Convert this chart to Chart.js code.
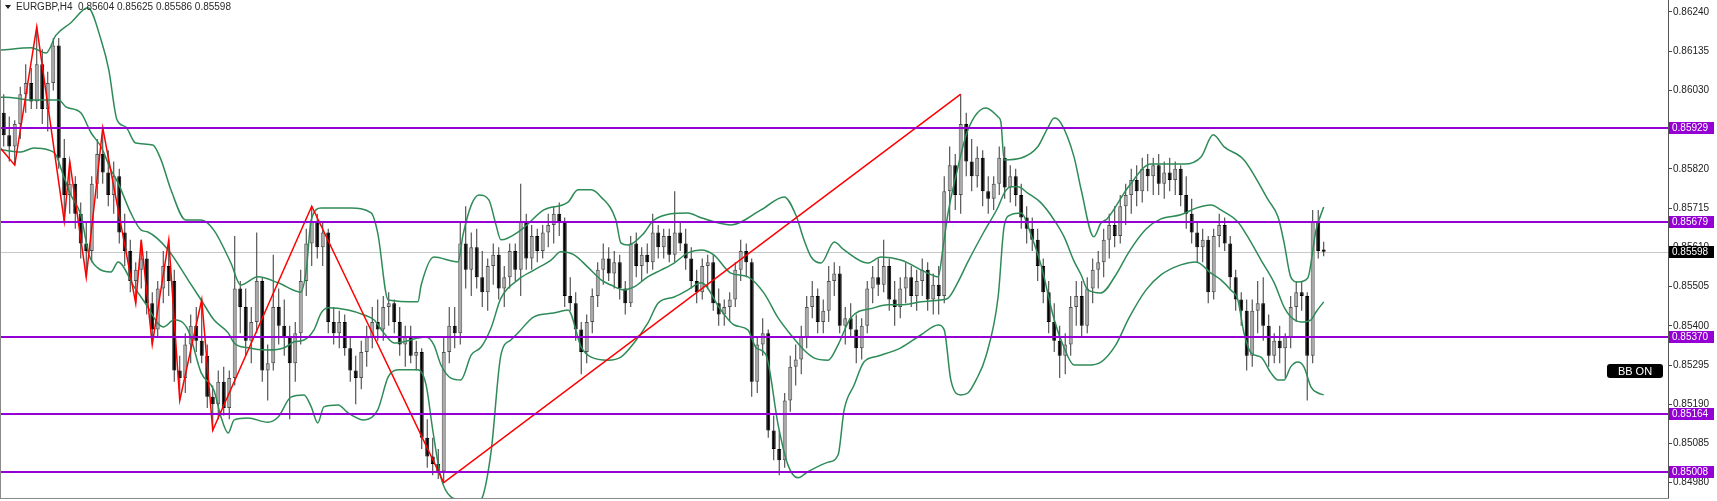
<!DOCTYPE html>
<html>
<head>
<meta charset="utf-8">
<script src="https://cdn.jsdelivr.net/npm/chart.js@4/dist/chart.umd.min.js"></script>
<style>
  html, body { margin: 0; padding: 0; background: #fff; }
  #wrap { width: 1717px; height: 501px; }
</style>
</head>
<body>
<div id="wrap"><canvas id="chart" width="1717" height="501"></canvas></div>
<script>
// EURGBP H4 candles (oldest first)
const symbol = 'EURGBP,H4';

const opens = [
  .8597,.8591,.8588,.8594,.8602,.8605,.8600,.8610,.8598,.8605,
  .8615,.8585,.8575,.8578,.8570,.8562,.8560,.8578,.8586,.8581,
  .8575,.8580,.8565,.8560,.8552,.8555,.8558,.8546,.8539,.8550,
  .8556,.8552,.8528,.8526,.8535,.8540,.8536,.8532,.8521,.8519,
  .8525,.8518,.8526,.8550,.8545,.8536,.8541,.8552,.8528,.8530,
  .8545,.8540,.8537,.8530,.8538,.8552,.8562,.8568,.8561,.8565,
  .8541,.8538,.8541,.8534,.8528,.8526,.8533,.8537,.8541,.8539,
  .8545,.8546,.8541,.8535,.8537,.8532,.8533,.8510,.8505,.8503,
  .8501,.8533,.8540,.8538,.8562,.8555,.8561,.8553,.8549,.8556,
  .8559,.8550,.8553,.8560,.8555,.8568,.8558,.8564,.8560,.8565,
  .8567,.8570,.8568,.8548,.8546,.8539,.8533,.8541,.8548,.8555,
  .8558,.8554,.8557,.8550,.8546,.8562,.8556,.8559,.8557,.8565,
  .8561,.8564,.8559,.8565,.8562,.8558,.8552,.8549,.8556,.8557,
  .8546,.8543,.8545,.8547,.8555,.8560,.8557,.8525,.8535,.8538,
  .8512,.8507,.8504,.8520,.8529,.8531,.8537,.8545,.8548,.8541,
  .8544,.8552,.8554,.8540,.8542,.8539,.8534,.8540,.8550,.8553,
  .8551,.8556,.8547,.8545,.8550,.8553,.8548,.8552,.8555,.8547,
  .8551,.8548,.8576,.8583,.8575,.8594,.8584,.8580,.8585,.8576,
  .8574,.8578,.8585,.8577,.8580,.8575,.8569,.8566,.8563,.8556,
  .8549,.8541,.8536,.8532,.8535,.8545,.8548,.8540,.8550,.8555,
  .8557,.8563,.8567,.8564,.8572,.8575,.8579,.8576,.8582,.8580,
  .8583,.8578,.8581,.8579,.8582,.8575,.8570,.8565,.8561,.8563,
  .8549,.8564,.8567,.8562,.8553,.8547,.8544,.8532,.8544,.8546,
  .8540,.8532,.8536,.8534,.8537,.8545,.8549,.8548,.8532,.8568,
  .85604
];
const highs = [
  .8602,.8596,.8595,.8604,.8610,.8609,.8620,.8614,.8608,.8617,
  .8617,.8590,.8584,.8580,.8573,.8568,.8580,.8590,.8593,.8587,
  .8584,.8582,.8570,.8563,.8557,.8563,.8560,.8549,.8552,.8560,
  .8563,.8555,.8532,.8538,.8543,.8545,.8547,.8535,.8524,.8528,
  .8529,.8528,.8564,.8552,.8550,.8545,.8565,.8553,.8535,.8559,
  .8550,.8547,.8540,.8541,.8555,.8566,.8572,.8570,.8568,.8566,
  .8545,.8544,.8543,.8537,.8532,.8536,.8540,.8545,.8547,.8548,
  .8549,.8547,.8545,.8540,.8540,.8536,.8534,.8515,.8510,.8507,
  .8537,.8545,.8545,.8568,.8572,.8565,.8566,.8560,.8558,.8562,
  .8561,.8556,.8562,.8562,.8578,.8570,.8567,.8566,.8567,.8570,
  .8572,.8573,.8569,.8553,.8549,.8541,.8543,.8550,.8557,.8562,
  .8561,.8560,.8559,.8552,.8564,.8565,.8561,.8562,.8570,.8567,
  .8566,.8566,.8576,.8568,.8566,.8561,.8555,.8558,.8559,.8559,
  .8550,.8547,.8549,.8557,.8563,.8562,.8558,.8537,.8542,.8539,
  .8516,.8512,.8522,.8532,.8535,.8540,.8548,.8552,.8550,.8547,
  .8556,.8557,.8556,.8545,.8546,.8543,.8542,.8552,.8556,.8558,
  .8563,.8558,.8552,.8553,.8557,.8556,.8555,.8558,.8557,.8554,
  .8556,.8580,.8588,.8586,.8602,.8597,.8590,.8588,.8587,.8580,
  .8580,.8588,.8588,.8583,.8582,.8578,.8572,.8569,.8566,.8558,
  .8552,.8546,.8540,.8538,.8548,.8552,.8552,.8553,.8558,.8560,
  .8566,.8570,.8572,.8575,.8578,.8582,.8583,.8585,.8586,.8585,
  .8586,.8584,.8585,.8584,.8583,.8580,.8574,.8568,.8566,.8564,
  .8566,.8570,.8569,.8564,.8555,.8549,.8547,.8547,.8552,.8553,
  .8543,.8538,.8540,.8538,.8548,.8552,.8552,.8549,.8571,.8571,
  .85625
];
const lows = [
  .8588,.8584,.8583,.8590,.8597,.8598,.8598,.8594,.8592,.8603,
  .8582,.8568,.8570,.8566,.8558,.8553,.8557,.8574,.8578,.8572,
  .8570,.8562,.8556,.8549,.8546,.8550,.8543,.8535,.8537,.8546,
  .8548,.8525,.8520,.8522,.8530,.8533,.8530,.8518,.8512,.8515,
  .8516,.8515,.8524,.8538,.8532,.8530,.8538,.8525,.8520,.8528,
  .8535,.8532,.8515,.8525,.8535,.8548,.8556,.8558,.8556,.8538,
  .8535,.8534,.8532,.8525,.8519,.8523,.8529,.8534,.8536,.8536,
  .8540,.8538,.8532,.8529,.8530,.8528,.8507,.8502,.8500,.8499,
  .8498,.8530,.8534,.8535,.8550,.8548,.8550,.8545,.8544,.8551,
  .8547,.8545,.8550,.8552,.8548,.8555,.8555,.8557,.8558,.8561,
  .8562,.8564,.8545,.8544,.8536,.8527,.8530,.8538,.8545,.8551,
  .8552,.8550,.8547,.8543,.8545,.8553,.8552,.8554,.8555,.8558,
  .8558,.8557,.8557,.8560,.8555,.8550,.8546,.8547,.8550,.8544,
  .8540,.8540,.8541,.8545,.8552,.8553,.8521,.8522,.8532,.8510,
  .8504,.8500,.8502,.8517,.8524,.8527,.8534,.8542,.8538,.8538,
  .8541,.8548,.8538,.8535,.8537,.8530,.8531,.8538,.8546,.8548,
  .8549,.8544,.8540,.8542,.8546,.8545,.8544,.8548,.8544,.8543,
  .8543,.8546,.8568,.8571,.8570,.8580,.8576,.8577,.8572,.8570,
  .8571,.8575,.8574,.8573,.8572,.8566,.8562,.8560,.8552,.8546,
  .8538,.8533,.8526,.8527,.8532,.8540,.8537,.8538,.8546,.8550,
  .8553,.8558,.8561,.8562,.8567,.8570,.8572,.8573,.8576,.8575,
  .8575,.8574,.8576,.8575,.8572,.8566,.8562,.8557,.8557,.8546,
  .8547,.8561,.8560,.8550,.8544,.8540,.8528,.8529,.8538,.8536,
  .8529,.8530,.8530,.8526,.8534,.8541,.8544,.8520,.8530,.8558,
  .85586
];
const closes = [
  .8591,.8588,.8594,.8602,.8605,.8600,.8610,.8598,.8605,.8615,
  .8585,.8575,.8578,.8570,.8562,.8560,.8578,.8586,.8581,.8575,
  .8580,.8565,.8560,.8552,.8555,.8558,.8546,.8539,.8550,.8556,
  .8552,.8528,.8526,.8535,.8540,.8536,.8532,.8521,.8519,.8525,
  .8518,.8526,.8550,.8545,.8536,.8541,.8552,.8528,.8530,.8545,
  .8540,.8537,.8530,.8538,.8552,.8562,.8568,.8561,.8565,.8541,
  .8538,.8541,.8534,.8528,.8526,.8533,.8537,.8541,.8539,.8545,
  .8546,.8541,.8535,.8537,.8532,.8533,.8510,.8505,.8503,.8501,
  .8533,.8540,.8538,.8562,.8555,.8561,.8553,.8549,.8556,.8559,
  .8550,.8553,.8560,.8555,.8568,.8558,.8564,.8560,.8565,.8567,
  .8570,.8568,.8548,.8546,.8539,.8533,.8541,.8548,.8555,.8558,
  .8554,.8557,.8550,.8546,.8562,.8556,.8559,.8557,.8565,.8561,
  .8564,.8559,.8565,.8562,.8558,.8552,.8549,.8556,.8557,.8546,
  .8543,.8545,.8547,.8555,.8560,.8557,.8525,.8535,.8538,.8512,
  .8507,.8504,.8520,.8529,.8531,.8537,.8545,.8548,.8541,.8544,
  .8552,.8554,.8540,.8542,.8539,.8534,.8540,.8550,.8553,.8551,
  .8556,.8547,.8545,.8550,.8553,.8548,.8552,.8555,.8547,.8551,
  .8548,.8576,.8583,.8575,.8594,.8584,.8580,.8585,.8576,.8574,
  .8578,.8585,.8577,.8580,.8575,.8569,.8566,.8563,.8556,.8549,
  .8541,.8536,.8532,.8535,.8545,.8548,.8540,.8550,.8555,.8557,
  .8563,.8567,.8564,.8572,.8575,.8579,.8576,.8582,.8580,.8583,
  .8578,.8581,.8579,.8582,.8575,.8570,.8565,.8561,.8563,.8549,
  .8564,.8567,.8562,.8553,.8547,.8544,.8532,.8544,.8546,.8540,
  .8532,.8536,.8534,.8537,.8545,.8549,.8548,.8532,.8568,.8560,
  .85598
];

// Bollinger bands (bar index, price)
const bbUpX = [-0.5,5,7.7,9.5,12.2,15.3,17.7,19.1,20.6,22.2,24,27.1,28.6,30.4,33.1,35.9,38.2,41.3,43.1,46.2,
  49.9,54,55,55.9,57.7,63.1,66.8,68,69.9,75.3,75.9,78.2,82.6,83.5,85,86.4,88.2,89.5,90.4,94,
  98.2,102.6,104.4,106.8,108.6,111.3,112.2,113.5,116.4,118.2,124.4,126.8,132.2,137.7,141.9,144,145.5,146.8,148.6,151,
  152.8,157.1,159.5,163.1,168,169.9,170.8,171.7,173.5,175.3,178.6,180.8,181.3,181.9,185,188,189.9,191,192.2,194.6,
  195.9,198.2,199.5,200.6,204.6,208.6,214.6,217.7,219.9,221.9,225.5,229.9,231.7,232.8,234,235.3,237.1,238.6,240];
const bbUpY = [.86138,.86144,.86130,.86178,.86211,.86251,.86165,.86085,.85951,.85932,.85889,.85884,.85844,.85764,.85683,.85683,.85656,.85568,.85509,.85531,
  .85515,.85490,.85549,.85683,.85715,.85715,.85702,.85648,.85469,.85464,.85509,.85584,.85571,.85643,.85723,.85750,.85737,.85670,.85630,.85656,
  .85710,.85731,.85764,.85764,.85745,.85683,.85622,.85616,.85648,.85683,.85702,.85689,.85670,.85710,.85745,.85697,.85630,.85584,.85568,.85624,
  .85603,.85568,.85584,.85576,.85541,.85531,.85611,.85702,.85825,.85924,.85983,.85959,.85946,.85844,.85849,.85879,.85932,.85956,.85943,.85852,
  .85764,.85638,.85675,.85686,.85774,.85833,.85833,.85852,.85911,.85879,.85844,.85737,.85691,.85622,.85531,.85517,.85528,.85656,.85718];

const bbMidX = [-0.5,1.9,5,8.6,10,11.3,14,15.9,17.7,19.5,20.8,23.1,25,26.2,29.9,33.5,35.9,38.2,40.8,41.9,
  44.4,48,51,52.8,54.6,56.4,57.7,59,62.6,65.5,67.3,69.1,71,74,75.3,76.8,78.2,79.5,81.3,83.1,
  85,86.8,88.6,90.4,93.5,96.4,99.5,101.3,103.7,106.2,108.6,110.4,112.8,114.6,117.1,119.5,121.9,124.4,126.8,129.1,
  132.2,135.3,138.2,140.8,143.1,145.5,147.3,149.9,151.7,154,158.2,160.8,163.1,166.8,170.4,171.7,173.5,175.3,178.2,180.8,
  181.9,183.1,184.4,186.2,188.6,191,192.8,194.6,195.9,197.1,199.5,202.2,204.6,207.7,210.4,214,216.8,219.5,221.3,224.4,
  226.2,228.6,231,232.8,234,235.9,237.7,238.6,240];
const bbMidY = [.86012,.86010,.86004,.86004,.86004,.85986,.85970,.85916,.85879,.85817,.85782,.85702,.85656,.85651,.85603,.85523,.85469,.85416,.85381,.85354,
  .85341,.85335,.85341,.85357,.85362,.85389,.85434,.85448,.85442,.85429,.85416,.85381,.85354,.85362,.85367,.85370,.85349,.85295,.85260,.85255,
  .85322,.85343,.85394,.85474,.85523,.85549,.85576,.85598,.85590,.85557,.85523,.85509,.85496,.85504,.85531,.85549,.85568,.85595,.85603,.85590,
  .85541,.85531,.85488,.85421,.85376,.85335,.85314,.85308,.85349,.85421,.85448,.85456,.85456,.85464,.85469,.85474,.85517,.85571,.85651,.85718,
  .85755,.85772,.85772,.85755,.85729,.85683,.85638,.85573,.85536,.85496,.85488,.85536,.85598,.85659,.85686,.85697,.85715,.85723,.85710,.85678,
  .85638,.85576,.85515,.85450,.85424,.85410,.85416,.85437,.85464];

const bbLowX = [-0.5,3.1,5.5,8,9.5,10.8,12.2,14,15.5,17.1,19.5,20.8,23.7,26.2,28,29.1,31,33.5,35.9,38.2,
  39.5,40.8,41.9,44.4,48,49.9,52.2,54.6,55.9,57.1,58.2,60.8,62.6,65.5,68,69.9,71.7,75.3,76.8,78,
  79.5,81.3,83.1,85,86.8,88.6,90.4,92.2,93.5,96.4,100,102.6,105,106.8,109.9,112.2,114.6,117.1,119,121.9,
  124.4,126.8,130.4,132.8,135.3,136.8,138.6,140.8,142.6,144.4,146.2,149.9,151.7,152.8,154.6,156.4,159,163.1,166.8,169.9,
  171,172.2,174,175.3,176.8,178.6,180.8,181.9,183.1,185,186.8,188.6,191,192.8,194.6,197.1,199.5,202.2,204.6,207.7,
  210.4,214,216.8,219.5,221.3,223.1,224.4,225.5,226.8,228.6,230.4,231.7,232.8,234,235.3,236.4,237.7,239,240];
const bbLowY = [.85871,.85865,.85876,.85871,.85857,.85804,.85750,.85697,.85590,.85555,.85544,.85571,.85504,.85450,.85407,.85397,.85416,.85389,.85274,.85228,
  .85156,.85113,.85148,.85153,.85142,.85156,.85209,.85215,.85183,.85140,.85183,.85188,.85167,.85148,.85175,.85263,.85282,.85282,.85241,.85121,
  .84993,.84942,.84934,.84920,.84934,.85062,.85322,.85362,.85381,.85424,.85434,.85442,.85343,.85316,.85308,.85316,.85354,.85407,.85461,.85477,
  .85496,.85515,.85442,.85402,.85389,.85341,.85322,.85135,.85027,.84993,.85009,.85035,.85054,.85175,.85241,.85303,.85319,.85341,.85376,.85402,
  .85389,.85255,.85215,.85220,.85255,.85319,.85477,.85667,.85697,.85702,.85643,.85563,.85416,.85341,.85295,.85295,.85303,.85349,.85421,.85496,
  .85536,.85563,.85571,.85541,.85523,.85496,.85469,.85381,.85327,.85316,.85274,.85255,.85255,.85290,.85303,.85290,.85236,.85220,.85215];

// ZigZag swing points
const zzIdx   = [-2, 2, 6, 11, 12, 15, 18, 24, 25, 27, 30, 32, 36, 38, 56, 80, 174];
const zzPrice = [.8590,.8583,.8620,.8568,.8584,.8553,.8593,.8546,.8563,.8535,.8563,.8520,.8547,.8512,.8572,.8498,.8602];

// horizontal levels, bid line, price axis
const levels = [0.85929, 0.85679, 0.85370, 0.85164, 0.85008];
const bidPrice = 0.85598;
const priceTicks = [0.86240,0.86135,0.86030,0.85925,0.85820,0.85715,0.85610,0.85505,0.85400,0.85295,0.85190,0.85085,0.84980];
const yMin = 0.84939, yMax = 0.86272;

const FONT = '"Liberation Sans", Arial, sans-serif';
const bbColor = 'rgb(46,139,87)';
const levelColor = 'rgb(148,0,211)';

const wickData = opens.map((o, i) => ({ x: i, y: [lows[i], highs[i]] }));
const bodyData = opens.map((o, i) => ({ x: i, y: [o, closes[i]] }));
const bull = opens.map((o, i) => closes[i] >= o);
const pts = (xs, ys) => xs.map((x, k) => ({ x: x, y: ys[k] }));

const overlay = {
  id: 'overlay',
  beforeDatasetsDraw(chart) {
    const { ctx, chartArea: a, scales: { y } } = chart;
    const py = Math.round(y.getPixelForValue(bidPrice)) + 0.5;
    ctx.save();
    ctx.strokeStyle = '#c8c8c8';
    ctx.lineWidth = 1;
    ctx.beginPath(); ctx.moveTo(a.left, py); ctx.lineTo(a.right, py); ctx.stroke();
    ctx.restore();
  },
  afterDatasetsDraw(chart) {
    const { ctx, chartArea: a, scales: { y } } = chart;
    ctx.save();
    ctx.strokeStyle = levelColor;
    ctx.lineWidth = 2;
    levels.forEach(v => {
      const py = Math.round(y.getPixelForValue(v));
      ctx.beginPath(); ctx.moveTo(a.left, py); ctx.lineTo(a.right, py); ctx.stroke();
    });
    ctx.restore();
  },
  afterDraw(chart) {
    const { ctx, chartArea: a, scales: { y } } = chart;
    ctx.save();
    // frame
    ctx.fillStyle = '#8a8a8a';
    ctx.fillRect(0, 0, 1, a.bottom + 1);
    ctx.fillRect(0, a.bottom, a.right + 1, 1);

    // price labels on the axis
    ctx.font = '10px ' + FONT;
    ctx.textBaseline = 'middle';
    ctx.textAlign = 'left';
    const tag = (v, bg) => {
      const py = Math.round(y.getPixelForValue(v));
      ctx.fillStyle = bg;
      ctx.fillRect(a.right + 1, py - 6, 45, 12);
      ctx.fillStyle = '#ffffff';
      ctx.fillText(v.toFixed(5), a.right + 4, py + 0.5);
    };
    levels.forEach(v => tag(v, levelColor));
    tag(bidPrice, '#000000');

    // title
    const n = closes.length - 1;
    ctx.fillStyle = '#1e1e1e';
    ctx.beginPath(); ctx.moveTo(5, 5); ctx.lineTo(11, 5); ctx.lineTo(8, 9); ctx.closePath(); ctx.fill();
    ctx.fillStyle = '#2a2a2a';
    ctx.font = '10px ' + FONT;
    ctx.fillText(symbol + '  ' + [opens[n], highs[n], lows[n], closes[n]].map(v => v.toFixed(5)).join(' '), 16, 7.5);

    // BB ON label
    const bx = a.right - 61, by = 364;
    ctx.fillStyle = '#000000';
    ctx.beginPath(); ctx.roundRect(bx, by, 56, 14, 3); ctx.fill();
    ctx.fillStyle = '#ffffff';
    ctx.font = '11px ' + FONT;
    ctx.textAlign = 'center';
    ctx.fillText('BB ON', bx + 28, by + 7.5);
    ctx.restore();
  }
};

const lineBase = { type: 'line', pointRadius: 0, borderWidth: 1.5, fill: false };

new Chart(document.getElementById('chart'), {
  type: 'bar',
  data: {
    datasets: [
      { type: 'bar', data: wickData, backgroundColor: '#333333', barThickness: 1, maxBarThickness: 1,
        grouped: false, inflateAmount: 0, order: 6 },
      { type: 'bar', data: bodyData,
        backgroundColor: bull.map(b => b ? '#a8a8a8' : '#000000'),
        borderColor: bull.map(b => b ? '#505050' : '#000000'),
        borderWidth: 1, borderSkipped: false,
        barThickness: 4, maxBarThickness: 4,
        minBarLength: 1, grouped: false, inflateAmount: 0, order: 5 },
      { ...lineBase, data: pts(bbUpX, bbUpY), borderColor: bbColor, cubicInterpolationMode: 'monotone', order: 4 },
      { ...lineBase, data: pts(bbMidX, bbMidY), borderColor: bbColor, cubicInterpolationMode: 'monotone', order: 3 },
      { ...lineBase, data: pts(bbLowX, bbLowY), borderColor: bbColor, cubicInterpolationMode: 'monotone', order: 2 },
      { ...lineBase, data: pts(zzIdx, zzPrice), borderColor: '#ff0000', tension: 0, order: 1 }
    ]
  },
  options: {
    responsive: false,
    animation: false,
    devicePixelRatio: 1,
    events: [],
    layout: { padding: { left: 1, right: 0, top: 0, bottom: 3 } },
    plugins: { legend: { display: false }, tooltip: { enabled: false } },
    scales: {
      x: { type: 'linear', display: false, min: -0.5, max: 302.6, offset: false },
      y: {
        position: 'right',
        min: yMin,
        max: yMax,
        afterBuildTicks: s => { s.ticks = priceTicks.map(v => ({ value: v })); },
        afterFit: s => { s.width = 49; s.paddingTop = 0; s.paddingBottom = 0; },
        ticks: { autoSkip: false, padding: 1, color: '#222', font: { family: FONT, size: 10 },
                 callback: v => Number(v).toFixed(5) },
        grid: { drawOnChartArea: false, tickLength: 4, color: '#444' },
        border: { color: '#555', width: 1 }
      }
    }
  },
  plugins: [overlay]
});
</script>
</body>
</html>
